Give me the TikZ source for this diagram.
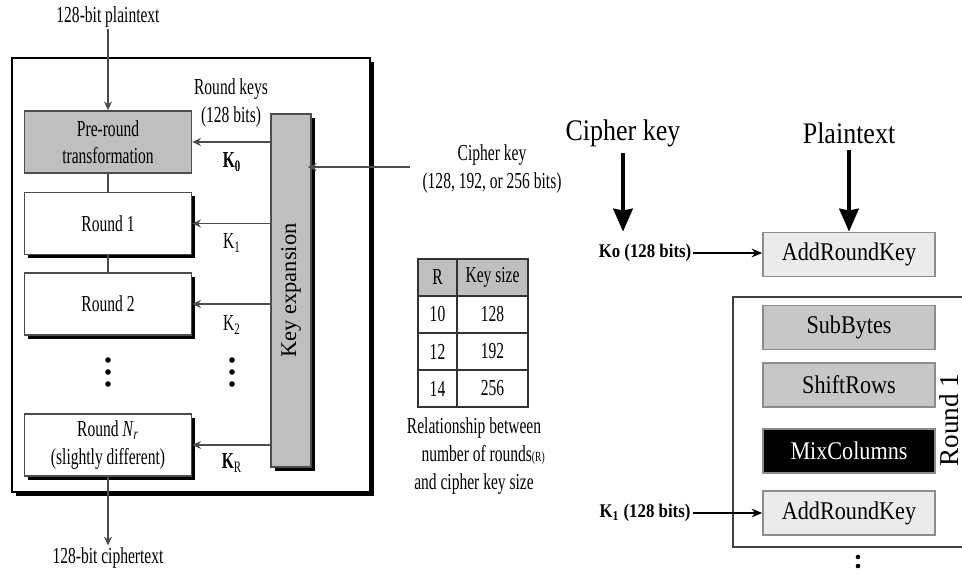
\documentclass[tikz,border=0pt]{standalone}
\usepackage{fontspec}
\setmainfont{Liberation Serif}
\newfontfamily\lfam[FakeStretch=0.68]{Liberation Serif}
\newfontfamily\rfam[FakeStretch=0.87]{Liberation Serif}
\newcommand\lfont{\lfam\fontsize{13}{15.6}\selectfont}
\newcommand\rfont{\rfam\fontsize{14.5}{17}\selectfont}
\usetikzlibrary{positioning,arrows.meta,shadows,calc}
\tikzset{
  shdw/.style={drop shadow={shadow xshift=2.2pt,shadow yshift=-2.2pt,fill=black,opacity=1}},
  rndbox/.style={draw=black!70,line width=0.8pt,fill=white,minimum width=3.34cm,minimum height=1.24cm,align=center,font=\lfont,inner sep=1pt},
  keyarr/.style={draw=black!70,line width=0.8pt,-{Stealth[length=5pt,width=4.5pt]}},
  lbl/.style={font=\lfont,align=center,inner sep=1pt},
  cell/.style={draw=black!80,line width=0.7pt,font=\lfont,minimum height=0.74cm,inner sep=0pt},
  aesbox/.style={draw=black!45,line width=1pt,minimum width=3.44cm,minimum height=0.88cm,font=\rfont,inner sep=1pt},
  big/.style={font=\rfam\fontsize{17}{20}\selectfont},
  klbl/.style={font=\rfam\bfseries\fontsize{11}{13}\selectfont,inner sep=1pt},
  fatarr/.style={line width=2.3pt,-{Stealth[length=13pt,width=11pt,inset=1pt]}},
  thinarr/.style={line width=0.7pt,-{Stealth[length=6pt,width=5pt]}},
}
\begin{document}
\begin{tikzpicture}[x=0.02cm,y=-0.02cm]
  \useasboundingbox (0,0) rectangle (962,574);
  % general outline of the cipher
  \draw[fill=white,line width=0.8pt,shdw] (12,58) rectangle (370,492);
  \node[lbl] (pin) at (108,17) {128-bit plaintext};
  \node[rndbox,fill=black!25] (pre) at (108,142) {Pre-round\\transformation};
  \node[rndbox,shdw] (r1) at (108,223.5) {Round 1};
  \node[rndbox,shdw] (r2) at (108,304) {Round 2};
  \node[rndbox,shdw] (rn) at (108,445) {Round \textit{N}\textsubscript{\textit{r}}\\(slightly different)};
  \node[lbl] (cout) at (108,558) {128-bit ciphertext};
  \node[draw=black!70,line width=0.8pt,fill=black!25,minimum width=0.8cm,minimum height=7.06cm,shdw] (kexp) at (291,290.5) {};
  \node[rotate=90,font=\rmfamily\fontsize{12.8}{15}\selectfont] (kexplbl) at (kexp) {Key expansion};
  \draw[keyarr] (pin.south) -- (pin.south |- pre.north);
  \draw[draw=black!70,line width=0.8pt] (pre) -- (r1) (r1) -- (r2);
  \draw[keyarr] (rn.south) -- (cout.north);
  \foreach \b in {pre,r1,r2,rn}
    \draw[keyarr] (kexp.west |- \b.east) -- (\b.east);
  \node[lbl] (rk) at (231,103) {Round keys\\(128 bits)};
  \node[lbl] (k0) at (232,162) {\textbf{K\textsubscript{0}}};
  \node[lbl] (k1) at (232,243) {K\textsubscript{1}};
  \node[lbl] (k2) at (232,325) {K\textsubscript{2}};
  \node[lbl] (kr) at (232,463) {\textbf{K}\textsubscript{R}};
  \foreach \x in {108,232}
    \foreach \y in {360,372,384}
      \fill (\x,\y) circle (1.6pt);
  \node[lbl] (ck) at (492,169) {Cipher key\\(128, 192, or 256 bits)};
  \coordinate (ckin) at (410,167);
  \draw[keyarr,shorten >=-2.2pt] (ckin) -- (ckin -| kexp.east);
  % rounds vs key size
  \node[cell,fill=black!25,minimum width=0.78cm] (th1) at (437.5,277.5) {R};
  \node[cell,fill=black!25,minimum width=1.42cm] (th2) at (492.5,277.5) {Key size};
  \foreach \r/\k [count=\i] in {10/128,12/192,14/256}{
    \node[cell,minimum width=0.78cm] (tr\i) at (437.5,277.5+37*\i) {\r};
    \node[cell,minimum width=1.42cm] (tk\i) at (492.5,277.5+37*\i) {\k};
  }
  \node[lbl,font=\lfam\fontsize{13}{15.9}\selectfont] (cap) at (474,456)
    {Relationship between\\\hspace*{0.8em}number of rounds{\fontsize{8}{8}\selectfont(R)}\\and cipher key size};
  % first round in detail
  \node[big] (ck2) at (623,133) {Cipher key};
  \node[big] (pt) at (849,133) {Plaintext};
  \node[aesbox,fill=black!8] (ark0) at (849,254.5) {AddRoundKey};
  \node[klbl] (k0b) at (645,253) {Ko (128 bits)};
  \draw[fatarr] (ck2.south) -- (ck2.south |- ark0.north);
  \draw[fatarr] (pt.south) -- (ark0.north);
  \draw[thinarr] (k0b.east) -- (k0b.east -| ark0.west);
  \draw[line width=1pt,black!75] (962,297) -- (733,297) -- (733,547) -- (962,547);
  \node[aesbox,fill=black!22] (sb) at (849,327.5) {SubBytes};
  \node[aesbox,fill=black!22] (sr) at (849,385) {ShiftRows};
  \node[aesbox,fill=black,text=white] (mc) at (849,451) {MixColumns};
  \node[aesbox,fill=black!8] (ark1) at (849,513) {AddRoundKey};
  \node[rotate=90,inner sep=0pt,font=\rmfamily\fontsize{15.5}{17}\selectfont] (r1lbl) at (949,420) {Round 1};
  \node[klbl] (k1b) at (645,513) {K\textsubscript{1} (128 bits)};
  \draw[thinarr] (k1b.east) -- (k1b.east -| ark1.west);
  \foreach \y in {557,566}
    \fill (858,\y) circle (1.3pt);
\end{tikzpicture}
\end{document}
